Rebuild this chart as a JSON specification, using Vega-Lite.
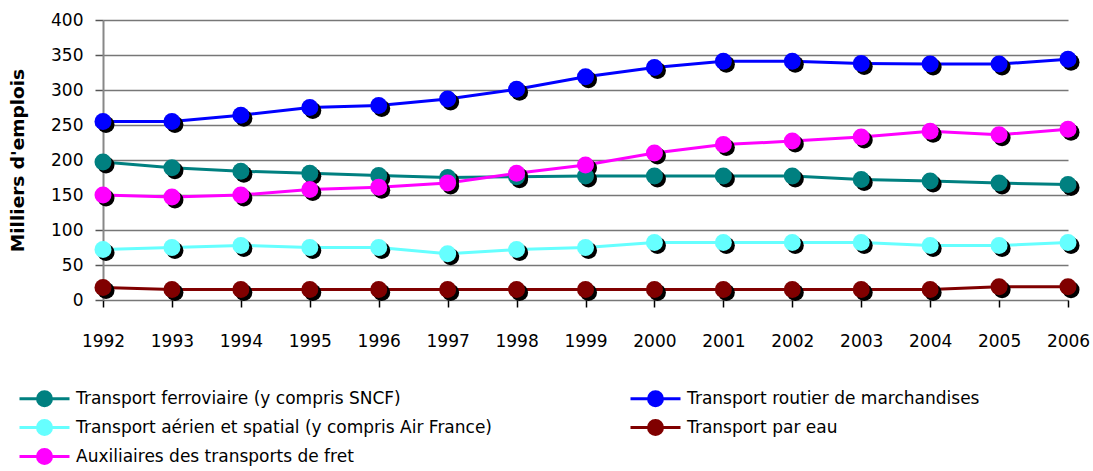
{
  "$schema": "https://vega.github.io/schema/vega-lite/v6.json",
  "autosize": {"type": "none"},
  "width": 965,
  "height": 280,
  "padding": {"left": 103, "top": 20, "right": 25, "bottom": 171},
  "background": "white",
  "config": {
    "view": {"stroke": null},
    "font": "DejaVu Sans",
    "axis": {"labelFont": "DejaVu Sans", "titleFont": "DejaVu Sans", "labelColor": "black", "titleColor": "black"},
    "legend": {"labelFont": "DejaVu Sans"}
  },
  "data": {"values": [
    {"year": "1992", "s": "Transport ferroviaire (y compris SNCF)", "v": 197},
    {"year": "1993", "s": "Transport ferroviaire (y compris SNCF)", "v": 189},
    {"year": "1994", "s": "Transport ferroviaire (y compris SNCF)", "v": 184},
    {"year": "1995", "s": "Transport ferroviaire (y compris SNCF)", "v": 181},
    {"year": "1996", "s": "Transport ferroviaire (y compris SNCF)", "v": 178},
    {"year": "1997", "s": "Transport ferroviaire (y compris SNCF)", "v": 175},
    {"year": "1998", "s": "Transport ferroviaire (y compris SNCF)", "v": 176},
    {"year": "1999", "s": "Transport ferroviaire (y compris SNCF)", "v": 177},
    {"year": "2000", "s": "Transport ferroviaire (y compris SNCF)", "v": 177},
    {"year": "2001", "s": "Transport ferroviaire (y compris SNCF)", "v": 177},
    {"year": "2002", "s": "Transport ferroviaire (y compris SNCF)", "v": 177},
    {"year": "2003", "s": "Transport ferroviaire (y compris SNCF)", "v": 172},
    {"year": "2004", "s": "Transport ferroviaire (y compris SNCF)", "v": 170},
    {"year": "2005", "s": "Transport ferroviaire (y compris SNCF)", "v": 167},
    {"year": "2006", "s": "Transport ferroviaire (y compris SNCF)", "v": 165},
    {"year": "1992", "s": "Transport routier de marchandises", "v": 255},
    {"year": "1993", "s": "Transport routier de marchandises", "v": 255},
    {"year": "1994", "s": "Transport routier de marchandises", "v": 264},
    {"year": "1995", "s": "Transport routier de marchandises", "v": 275},
    {"year": "1996", "s": "Transport routier de marchandises", "v": 278},
    {"year": "1997", "s": "Transport routier de marchandises", "v": 287},
    {"year": "1998", "s": "Transport routier de marchandises", "v": 301},
    {"year": "1999", "s": "Transport routier de marchandises", "v": 319},
    {"year": "2000", "s": "Transport routier de marchandises", "v": 332},
    {"year": "2001", "s": "Transport routier de marchandises", "v": 341},
    {"year": "2002", "s": "Transport routier de marchandises", "v": 341},
    {"year": "2003", "s": "Transport routier de marchandises", "v": 338},
    {"year": "2004", "s": "Transport routier de marchandises", "v": 337},
    {"year": "2005", "s": "Transport routier de marchandises", "v": 337},
    {"year": "2006", "s": "Transport routier de marchandises", "v": 344},
    {"year": "1992", "s": "Transport aérien et spatial (y compris Air France)", "v": 72},
    {"year": "1993", "s": "Transport aérien et spatial (y compris Air France)", "v": 75},
    {"year": "1994", "s": "Transport aérien et spatial (y compris Air France)", "v": 78},
    {"year": "1995", "s": "Transport aérien et spatial (y compris Air France)", "v": 75},
    {"year": "1996", "s": "Transport aérien et spatial (y compris Air France)", "v": 75},
    {"year": "1997", "s": "Transport aérien et spatial (y compris Air France)", "v": 66},
    {"year": "1998", "s": "Transport aérien et spatial (y compris Air France)", "v": 72},
    {"year": "1999", "s": "Transport aérien et spatial (y compris Air France)", "v": 75},
    {"year": "2000", "s": "Transport aérien et spatial (y compris Air France)", "v": 82},
    {"year": "2001", "s": "Transport aérien et spatial (y compris Air France)", "v": 82},
    {"year": "2002", "s": "Transport aérien et spatial (y compris Air France)", "v": 82},
    {"year": "2003", "s": "Transport aérien et spatial (y compris Air France)", "v": 82},
    {"year": "2004", "s": "Transport aérien et spatial (y compris Air France)", "v": 78},
    {"year": "2005", "s": "Transport aérien et spatial (y compris Air France)", "v": 78},
    {"year": "2006", "s": "Transport aérien et spatial (y compris Air France)", "v": 82},
    {"year": "1992", "s": "Transport par eau", "v": 18},
    {"year": "1993", "s": "Transport par eau", "v": 15},
    {"year": "1994", "s": "Transport par eau", "v": 15},
    {"year": "1995", "s": "Transport par eau", "v": 15},
    {"year": "1996", "s": "Transport par eau", "v": 15},
    {"year": "1997", "s": "Transport par eau", "v": 15},
    {"year": "1998", "s": "Transport par eau", "v": 15},
    {"year": "1999", "s": "Transport par eau", "v": 15},
    {"year": "2000", "s": "Transport par eau", "v": 15},
    {"year": "2001", "s": "Transport par eau", "v": 15},
    {"year": "2002", "s": "Transport par eau", "v": 15},
    {"year": "2003", "s": "Transport par eau", "v": 15},
    {"year": "2004", "s": "Transport par eau", "v": 15},
    {"year": "2005", "s": "Transport par eau", "v": 19},
    {"year": "2006", "s": "Transport par eau", "v": 19},
    {"year": "1992", "s": "Auxiliaires des transports de fret", "v": 150},
    {"year": "1993", "s": "Auxiliaires des transports de fret", "v": 147},
    {"year": "1994", "s": "Auxiliaires des transports de fret", "v": 150},
    {"year": "1995", "s": "Auxiliaires des transports de fret", "v": 158},
    {"year": "1996", "s": "Auxiliaires des transports de fret", "v": 161},
    {"year": "1997", "s": "Auxiliaires des transports de fret", "v": 167},
    {"year": "1998", "s": "Auxiliaires des transports de fret", "v": 181},
    {"year": "1999", "s": "Auxiliaires des transports de fret", "v": 193},
    {"year": "2000", "s": "Auxiliaires des transports de fret", "v": 210},
    {"year": "2001", "s": "Auxiliaires des transports de fret", "v": 222},
    {"year": "2002", "s": "Auxiliaires des transports de fret", "v": 227},
    {"year": "2003", "s": "Auxiliaires des transports de fret", "v": 233},
    {"year": "2004", "s": "Auxiliaires des transports de fret", "v": 241},
    {"year": "2005", "s": "Auxiliaires des transports de fret", "v": 236},
    {"year": "2006", "s": "Auxiliaires des transports de fret", "v": 244}
  ]},
  "encoding": {
    "x": {
      "field": "year", "type": "ordinal",
      "scale": {"type": "point", "padding": 0},
      "axis": {"title": null, "labelAngle": 0, "labelFontSize": 17, "labelPadding": 26, "tickSize": 7, "tickColor": "black", "tickWidth": 1.5, "domain": false, "grid": false}
    },
    "y": {
      "field": "v", "type": "quantitative",
      "scale": {"domain": [0, 400], "nice": false},
      "axis": {"title": "Milliers d'emplois", "titleFontSize": 18.5, "titleFontWeight": "bold", "titlePadding": 23, "labelFontSize": 17, "labelPadding": 12, "tickSize": 8, "tickColor": "#555555", "tickWidth": 1.5, "values": [0, 50, 100, 150, 200, 250, 300, 350, 400], "gridColor": "#777777", "gridWidth": 1.5, "gridOpacity": 1, "domainColor": "#888888", "domainWidth": 2}
    }
  },
  "layer": [
    {
      "mark": {"type": "line", "strokeWidth": 3},
      "encoding": {
        "color": {
          "field": "s", "type": "nominal",
          "scale": {
            "domain": ["Transport ferroviaire (y compris SNCF)", "Transport routier de marchandises", "Transport aérien et spatial (y compris Air France)", "Transport par eau", "Auxiliaires des transports de fret"],
            "range": ["#008080", "#0000FF", "#66FFFF", "#800000", "#FF00FF"]
          },
          "legend": {
            "title": null, "orient": "none", "legendX": -70, "legendY": 367, "columns": 2, "direction": "horizontal",
            "columnPadding": 131, "rowPadding": 2, "labelFontSize": 17, "labelColor": "black", "labelOffset": 20, "labelLimit": 0,
            "symbolType": "M -2.5 0 L 2.5 0 M 0.7 0 A 0.7 0.7 0 1 1 -0.7 0 A 0.7 0.7 0 1 1 0.7 0 Z",
            "symbolSize": 400, "symbolStrokeWidth": 3, "symbolLimit": 10
          }
        }
      }
    },
    {
      "mark": {"type": "point", "filled": true, "size": 290, "color": "black", "opacity": 1, "xOffset": 3, "yOffset": 3}
    },
    {
      "mark": {"type": "point", "filled": true, "size": 290, "opacity": 1},
      "encoding": {"color": {"field": "s", "type": "nominal"}}
    }
  ]
}
